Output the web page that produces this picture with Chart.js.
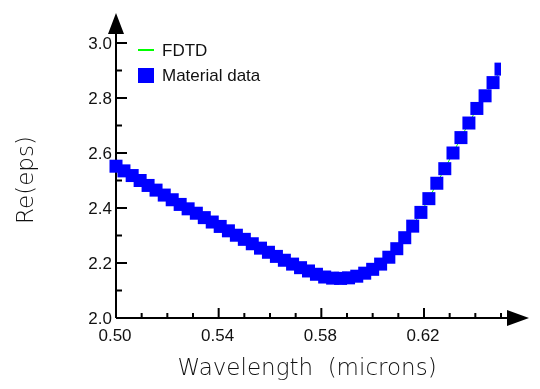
<!DOCTYPE html>
<html>
<head>
<meta charset="utf-8">
<script src="https://cdn.jsdelivr.net/npm/chart.js@4"></script>
<style>
  html, body { margin: 0; padding: 0; background: #fff; }
  canvas { display: block; }
</style>
</head>
<body>
<canvas id="graphique" width="540" height="389"></canvas>
<script>
const wavelengths = [
  0.5000, 0.5031, 0.5063, 0.5094, 0.5125, 0.5156, 0.5188, 0.5219, 0.5250, 0.5281,
  0.5313, 0.5344, 0.5375, 0.5406, 0.5438, 0.5469, 0.5500, 0.5531, 0.5563, 0.5594,
  0.5625, 0.5656, 0.5688, 0.5719, 0.5750, 0.5781, 0.5813, 0.5844, 0.5875, 0.5906,
  0.5938, 0.5969, 0.6000, 0.6031, 0.6063, 0.6094, 0.6125, 0.6156, 0.6188, 0.6219,
  0.6250, 0.6281, 0.6313, 0.6344, 0.6375, 0.6406, 0.6438, 0.6469, 0.6500
];
const materialEps = [
  2.552, 2.535, 2.518, 2.500, 2.482, 2.465, 2.447, 2.430, 2.413, 2.397,
  2.381, 2.365, 2.349, 2.333, 2.317, 2.301, 2.286, 2.270, 2.254, 2.239,
  2.224, 2.210, 2.196, 2.183, 2.171, 2.159, 2.149, 2.145, 2.144, 2.146,
  2.152, 2.163, 2.177, 2.196, 2.221, 2.252, 2.292, 2.334, 2.384, 2.434,
  2.490, 2.543, 2.600, 2.656, 2.709, 2.762, 2.808, 2.856, 2.905
];
const fdtdEps = materialEps.slice();

const xTicks = [0.50, 0.54, 0.58, 0.62];
const xTickLabels = ["0.50", "0.54", "0.58", "0.62"];
const xMinorTicks = [0.51, 0.52, 0.53, 0.55, 0.56, 0.57, 0.59, 0.60, 0.61, 0.63, 0.64, 0.65];
const yTicks = [2.0, 2.2, 2.4, 2.6, 2.8, 3.0];
const yTickLabels = ["2.0", "2.2", "2.4", "2.6", "2.8", "3.0"];
const yMinorTicks = [2.1, 2.3, 2.5, 2.7, 2.9];

const pts = (ys) => wavelengths.map((x, i) => ({ x: x, y: ys[i] }));

const axesPlugin = {
  id: "axes",
  beforeDatasetsDraw(chart) {
    const ctx = chart.ctx;
    const xs = chart.scales.x, ys = chart.scales.y;
    const x0 = xs.getPixelForValue(0.5), y0 = ys.getPixelForValue(2.0);
    ctx.save();
    ctx.strokeStyle = "#000";
    ctx.fillStyle = "#000";
    ctx.lineWidth = 2;
    ctx.beginPath();
    ctx.moveTo(x0, y0); ctx.lineTo(x0, 30);
    ctx.moveTo(x0, y0); ctx.lineTo(510, y0);
    yTicks.forEach(v => { const p = ys.getPixelForValue(v); ctx.moveTo(x0, p); ctx.lineTo(x0 + 11, p); });
    yMinorTicks.forEach(v => { const p = ys.getPixelForValue(v); ctx.moveTo(x0, p); ctx.lineTo(x0 + 6, p); });
    xTicks.forEach(v => { const p = xs.getPixelForValue(v); ctx.moveTo(p, y0); ctx.lineTo(p, y0 - 10); });
    xMinorTicks.forEach(v => { const p = xs.getPixelForValue(v); ctx.moveTo(p, y0); ctx.lineTo(p, y0 - 5); });
    ctx.stroke();
    // arrows
    ctx.beginPath();
    ctx.moveTo(x0, 13); ctx.lineTo(x0 - 8, 34); ctx.lineTo(x0 + 8, 34); ctx.closePath();
    ctx.moveTo(529, y0); ctx.lineTo(507, y0 - 8); ctx.lineTo(507, y0 + 8); ctx.closePath();
    ctx.fill();
    // tick labels
    ctx.fillStyle = "#111";
    ctx.font = '17px "Liberation Sans", Arial, sans-serif';
    ctx.textAlign = "right"; ctx.textBaseline = "middle";
    yTicks.forEach((v, i) => ctx.fillText(yTickLabels[i], x0 - 4, ys.getPixelForValue(v) + 1));
    ctx.textAlign = "center";
    xTicks.forEach((v, i) => ctx.fillText(xTickLabels[i], xs.getPixelForValue(v) - 1, 336));
    // titles
    ctx.font = '200 23px "DejaVu Sans", sans-serif';
    ctx.fillText("Wavelength  (microns)", 307, 369);
    ctx.save();
    ctx.translate(27, 180);
    ctx.rotate(-Math.PI / 2);
    ctx.fillText("Re(eps)", 0, 0);
    ctx.restore();
    ctx.restore();
  },
  afterDraw(chart) {
    const ctx = chart.ctx;
    ctx.save();
    ctx.strokeStyle = "#00ff00";
    ctx.lineWidth = 2;
    ctx.beginPath(); ctx.moveTo(138, 50); ctx.lineTo(154, 50); ctx.stroke();
    ctx.fillStyle = "#0000ff";
    ctx.fillRect(138, 68, 16, 15);
    ctx.fillStyle = "#111";
    ctx.font = '17px "Liberation Sans", Arial, sans-serif';
    ctx.textAlign = "left"; ctx.textBaseline = "middle";
    ctx.fillText("FDTD", 162, 51);
    ctx.fillText("Material data", 162, 76);
    ctx.restore();
  }
};

new Chart(document.getElementById("graphique"), {
  type: "line",
  data: {
    datasets: [{
      label: "Material data",
      data: pts(materialEps),
      showLine: false,
      pointStyle: "rect",
      pointRadius: 9.2,
      pointBorderWidth: 0,
      backgroundColor: "#0000ff",
      borderColor: "#0000ff",
      order: 0,
      clip: { left: 8, top: 0, right: 0, bottom: 0 }
    }, {
      label: "FDTD",
      data: pts(fdtdEps),
      borderColor: "#00ff00",
      borderWidth: 1,
      pointRadius: 0,
      tension: 0,
      order: 1
    }]
  },
  options: {
    responsive: false,
    animation: false,
    devicePixelRatio: 1,
    layout: { padding: { left: 116, right: 39, top: 43, bottom: 71 } },
    scales: {
      x: { type: "linear", min: 0.5, max: 0.65, display: false },
      y: { type: "linear", min: 2.0, max: 3.0, display: false }
    },
    plugins: { legend: { display: false }, tooltip: { enabled: false } }
  },
  plugins: [axesPlugin]
});
</script>
</body>
</html>
